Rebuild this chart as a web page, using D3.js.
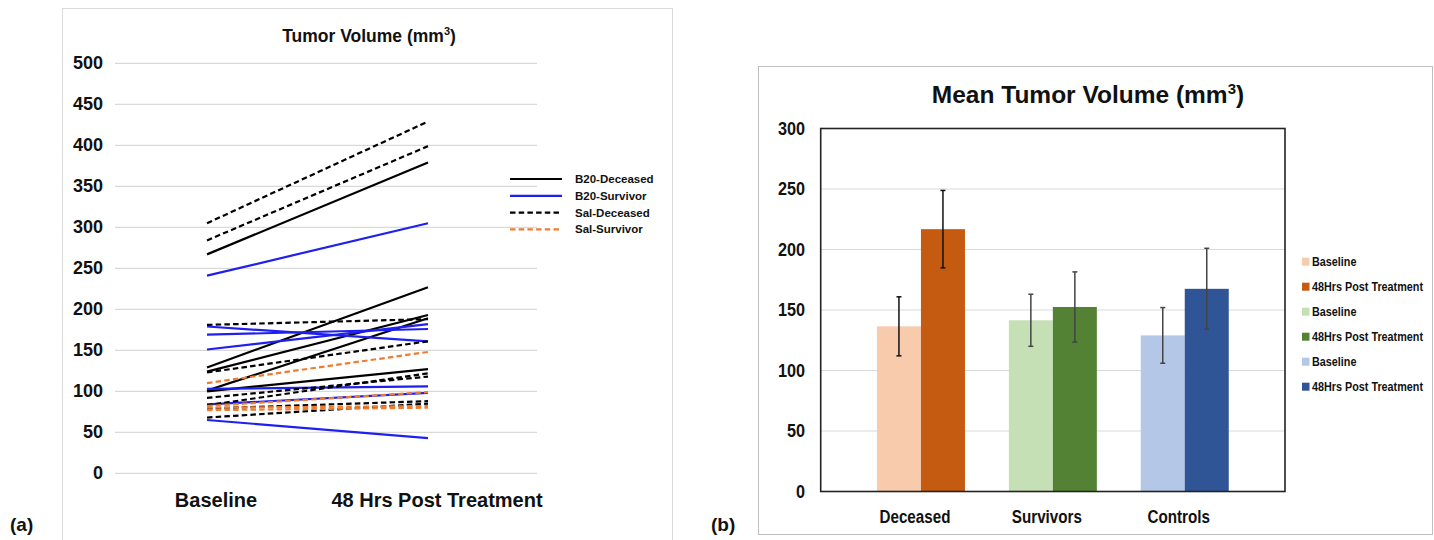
<!DOCTYPE html>
<meta charset="utf-8">
<html>
<head>
<title>Tumor Volume</title>
<style>
  body { margin: 0; background: #fff; }
  text { font-family: "Liberation Sans", Arial, sans-serif; font-weight: bold; fill: #111; }
</style>
<script src="https://cdn.jsdelivr.net/npm/d3@7"></script>
</head>
<body>
<script>

    var width = 1434, height = 540;

    // ---- panel (a): individual tumor volumes ----
    var timepoints = ["Baseline", "48 Hrs Post Treatment"];
    var yTicksA = [0, 50, 100, 150, 200, 250, 300, 350, 400, 450, 500];

    var seriesNames = ["B20-Deceased", "B20-Survivor", "Sal-Deceased", "Sal-Survivor"];
    var b20DeceasedBase = [267, 129, 124, 101, 100];
    var b20DeceasedPost = [379, 227, 193, 189, 127];
    var b20SurvivorBase = [241, 179, 169, 151, 103, 84, 65];
    var b20SurvivorPost = [305, 161, 176, 182, 106, 98, 43];
    var salDeceasedBase = [305, 284, 181, 123, 92, 83, 79, 68];
    var salDeceasedPost = [429, 399, 188, 161, 118, 122, 88, 85];
    var salSurvivorBase = [110, 82, 80, 77];
    var salSurvivorPost = [148, 99, 82, 80];

    // ---- panel (b): mean tumor volume ----
    var groups = ["Deceased", "Survivors", "Controls"];
    var yTicksB = [0, 50, 100, 150, 200, 250, 300];
    var meanBase = [136.5, 141.5, 129];
    var meanPost = [216.8, 152.5, 167.5];
    var errBase = [24.4, 21.5, 23];
    var errPost = [32, 29, 33.5];
    var legendB = ["Baseline", "48Hrs Post Treatment", "Baseline", "48Hrs Post Treatment", "Baseline", "48Hrs Post Treatment"];

    var squeeze = 0.8;  // condensed look of the right panel labels

    var svg = d3.select("body").append("svg")
        .attr("width", width)
        .attr("height", height);

    // ================= panel (a) =================
    svg.append("rect")
        .attr("x", 62.5).attr("y", 8.5).attr("width", 610).attr("height", 540)
        .style("fill", "none").style("stroke", "#d9d9d9");

    var xA = d3.scalePoint().domain(timepoints).range([207, 428]);
    var yA = d3.scaleLinear().domain([0, 500]).range([473.3, 63.3]);

    var gA = svg.append("g");

    gA.selectAll("line.grid")
      .data(yTicksA)
      .enter().append("line")
      .attr("class", "grid")
      .attr("x1", 115).attr("x2", 537)
      .attr("y1", d => yA(d)).attr("y2", d => yA(d))
      .style("stroke", "#d9d9d9").style("stroke-width", 1.2);

    gA.selectAll("text.ytick")
      .data(yTicksA)
      .enter().append("text")
      .attr("class", "ytick")
      .attr("x", 103).attr("y", d => yA(d) + 6)
      .attr("text-anchor", "end")
      .style("font-size", "18px")
      .text(d => d);

    gA.selectAll("text.xlab")
      .data(timepoints)
      .enter().append("text")
      .attr("class", "xlab")
      .attr("x", d => xA(d) + 9).attr("y", 507)
      .attr("text-anchor", "middle")
      .style("font-size", "20px")
      .text(d => d);

    var titleA = gA.append("text")
        .attr("x", 369).attr("y", 42)
        .attr("text-anchor", "middle")
        .style("font-size", "17.5px");
    titleA.append("tspan").text("Tumor Volume (mm");
    titleA.append("tspan").attr("dy", -7).style("font-size", "11px").text("3");
    titleA.append("tspan").attr("dy", 7).text(")");

    var styles = {
      "B20-Deceased": {color: "#000000", dash: null},
      "B20-Survivor": {color: "#1f1fef", dash: null},
      "Sal-Deceased": {color: "#000000", dash: "5.5,3.2"},
      "Sal-Survivor": {color: "#ed7d31", dash: "5.5,3.2"}
    };

    var pairs = function(name, base, post) {
      return base.map((b, i) => ({name: name, values: [b, post[i]]}));
    };
    var subjects = [].concat(
      pairs("B20-Deceased", b20DeceasedBase, b20DeceasedPost),
      pairs("B20-Survivor", b20SurvivorBase, b20SurvivorPost),
      pairs("Sal-Deceased", salDeceasedBase, salDeceasedPost),
      pairs("Sal-Survivor", salSurvivorBase, salSurvivorPost)
    );

    var line = d3.line()
        .x((d, i) => xA(timepoints[i]))
        .y(d => yA(d));

    gA.selectAll("path.subj")
      .data(subjects)
      .enter().append("path")
      .attr("class", "subj")
      .attr("d", d => line(d.values))
      .style("fill", "none")
      .style("stroke", d => styles[d.name].color)
      .style("stroke-width", 2.2)
      .style("stroke-dasharray", d => styles[d.name].dash);

    // legend (a)
    var legA = gA.selectAll("g.legA")
      .data(seriesNames)
      .enter().append("g")
      .attr("class", "legA")
      .attr("transform", (d, i) => `translate(510,${179 + i * 16.8})`);
    legA.append("line")
      .attr("x1", 0).attr("x2", 52)
      .style("stroke", d => styles[d].color)
      .style("stroke-width", 2.2)
      .style("stroke-dasharray", d => styles[d].dash);
    legA.append("text")
      .attr("x", 65).attr("y", 4)
      .style("font-size", "11.5px")
      .text(d => d);

    svg.append("text")
      .attr("x", 10).attr("y", 531)
      .style("font-size", "19px")
      .text("(a)");

    // ================= panel (b) =================
    svg.append("rect")
        .attr("x", 758.5).attr("y", 66.5).attr("width", 674).attr("height", 468)
        .style("fill", "none").style("stroke", "#bfbfbf");

    var plotL = 820.7, plotR = 1285, plotT = 128.5, plotB = 491.5;
    var xB = d3.scalePoint().domain(groups).range([plotL, plotR]).padding(0.76);
    var yB = d3.scaleLinear().domain([0, 300]).range([plotB, plotT]);
    var barW = 44;

    var colorsBase = ["#f8cbad", "#c5e0b4", "#b4c7e7"];
    var colorsPost = ["#c55a11", "#548235", "#2f5597"];

    var gB = svg.append("g");

    gB.selectAll("line.grid")
      .data(yTicksB.slice(1, -1))
      .enter().append("line")
      .attr("class", "grid")
      .attr("x1", plotL).attr("x2", plotR)
      .attr("y1", d => yB(d)).attr("y2", d => yB(d))
      .style("stroke", "#d9d9d9").style("stroke-width", 1.2);

    gB.selectAll("text.ytick")
      .data(yTicksB)
      .enter().append("text")
      .attr("class", "ytick")
      .attr("transform", d => `translate(805,${yB(d) + 6}) scale(0.9,1)`)
      .attr("text-anchor", "end")
      .style("font-size", "18px")
      .text(d => d);

    var bars = groups.map((g, i) => ({
      group: g, i: i, base: meanBase[i], post: meanPost[i], eb: errBase[i], ep: errPost[i]
    }));

    gB.selectAll("rect.base")
      .data(bars)
      .enter().append("rect")
      .attr("class", "base")
      .attr("x", d => xB(d.group) - barW)
      .attr("y", d => yB(d.base))
      .attr("width", barW)
      .attr("height", d => yB(0) - yB(d.base))
      .style("fill", d => colorsBase[d.i]);

    gB.selectAll("rect.post")
      .data(bars)
      .enter().append("rect")
      .attr("class", "post")
      .attr("x", d => xB(d.group))
      .attr("y", d => yB(d.post))
      .attr("width", barW)
      .attr("height", d => yB(0) - yB(d.post))
      .style("fill", d => colorsPost[d.i]);

    // error bars
    var errs = [];
    bars.forEach(d => {
      errs.push({x: xB(d.group) - barW / 2, v: d.base, e: d.eb, c: d.i == 0 ? "#111" : "#444"});
      errs.push({x: xB(d.group) + barW / 2, v: d.post, e: d.ep, c: d.i == 0 ? "#111" : "#444"});
    });
    var eg = gB.selectAll("g.err")
      .data(errs)
      .enter().append("g")
      .attr("class", "err")
      .style("stroke", d => d.c)
      .style("stroke-width", 1.5);
    eg.append("line")
      .attr("x1", d => d.x).attr("x2", d => d.x)
      .attr("y1", d => yB(d.v + d.e)).attr("y2", d => yB(d.v - d.e));
    eg.append("line")
      .attr("x1", d => d.x - 2.5).attr("x2", d => d.x + 2.5)
      .attr("y1", d => yB(d.v + d.e)).attr("y2", d => yB(d.v + d.e));
    eg.append("line")
      .attr("x1", d => d.x - 2.5).attr("x2", d => d.x + 2.5)
      .attr("y1", d => yB(d.v - d.e)).attr("y2", d => yB(d.v - d.e));

    // plot frame
    gB.append("rect")
      .attr("x", plotL).attr("y", plotT)
      .attr("width", plotR - plotL).attr("height", plotB - plotT)
      .style("fill", "none").style("stroke", "#222").style("stroke-width", 1.6);

    gB.selectAll("text.xlab")
      .data(groups)
      .enter().append("text")
      .attr("class", "xlab")
      .attr("transform", d => `translate(${xB(d) - 6},523) scale(${squeeze},1)`)
      .attr("text-anchor", "middle")
      .style("font-size", "19px")
      .text(d => d);

    var titleB = gB.append("text")
        .attr("x", 1088).attr("y", 103)
        .attr("text-anchor", "middle")
        .style("font-size", "24.5px");
    titleB.append("tspan").text("Mean Tumor Volume (mm");
    titleB.append("tspan").attr("dy", -9).style("font-size", "15px").text("3");
    titleB.append("tspan").attr("dy", 9).text(")");

    // legend (b)
    var legColors = [];
    colorsBase.forEach((c, i) => { legColors.push(c); legColors.push(colorsPost[i]); });
    var legB = gB.selectAll("g.legB")
      .data(legendB)
      .enter().append("g")
      .attr("class", "legB")
      .attr("transform", (d, i) => `translate(1302,${261.7 + i * 25})`);
    legB.append("rect")
      .attr("x", 0).attr("y", -4).attr("width", 7.5).attr("height", 8)
      .style("fill", (d, i) => legColors[i]);
    legB.append("text")
      .attr("transform", `translate(10,4.5) scale(${squeeze},1)`)
      .style("font-size", "13.5px")
      .text(d => d);

    svg.append("text")
      .attr("x", 711).attr("y", 531)
      .style("font-size", "19px")
      .text("(b)");

</script>
</body>
</html>
